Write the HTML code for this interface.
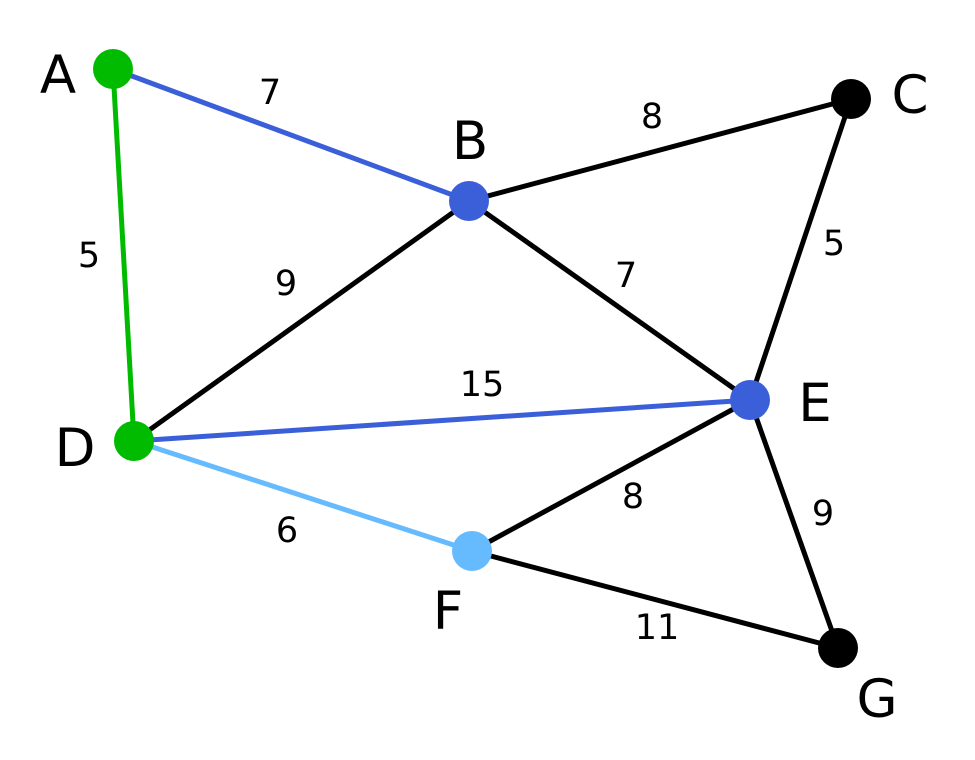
<!DOCTYPE html>
<html><head><meta charset="utf-8"><style>html,body{margin:0;padding:0;background:#fff}</style></head>
<body>
<svg width="975" height="760" viewBox="0 0 975 760" xmlns="http://www.w3.org/2000/svg" style="display:block">
<g stroke-width="5" stroke-linecap="round">
<line x1="113" y1="69" x2="469" y2="201" stroke="#3a5fd9"/>
<line x1="113" y1="69" x2="134" y2="441" stroke="#00bb00"/>
<line x1="469" y1="201" x2="851" y2="99" stroke="#000"/>
<line x1="469" y1="201" x2="134" y2="441" stroke="#000"/>
<line x1="469" y1="201" x2="750" y2="400" stroke="#000"/>
<line x1="851" y1="99" x2="750" y2="400" stroke="#000"/>
<line x1="134" y1="441" x2="750" y2="400" stroke="#3a5fd9"/>
<line x1="134" y1="441" x2="472" y2="551" stroke="#66bbff"/>
<line x1="472" y1="551" x2="750" y2="400" stroke="#000"/>
<line x1="472" y1="551" x2="838" y2="648" stroke="#000"/>
<line x1="750" y1="400" x2="838" y2="648" stroke="#000"/>
</g>
<circle cx="113" cy="69" r="20" fill="#00bb00"/>
<circle cx="469" cy="201" r="20" fill="#3a5fd9"/>
<circle cx="851" cy="99" r="20" fill="#000"/>
<circle cx="134" cy="441" r="20" fill="#00bb00"/>
<circle cx="750" cy="400" r="20" fill="#3a5fd9"/>
<circle cx="472" cy="551" r="20" fill="#66bbff"/>
<circle cx="838" cy="648" r="20" fill="#000"/>
<g font-family="DejaVu Sans, Liberation Sans, sans-serif" font-size="53" text-anchor="middle" fill="#000">
<text x="58" y="93">A</text>
<text x="470" y="159">B</text>
<text x="910" y="113">C</text>
<text x="75" y="466">D</text>
<text x="815" y="421">E</text>
<text x="448" y="629">F</text>
<text x="877" y="717">G</text>
</g>
<g font-family="DejaVu Sans, Liberation Sans, sans-serif" font-size="35" text-anchor="middle" fill="#000">
<text x="270" y="104">7</text>
<text x="652" y="128">8</text>
<text x="89" y="267">5</text>
<text x="286" y="295">9</text>
<text x="626" y="287">7</text>
<text x="834" y="255">5</text>
<text x="482" y="396">15</text>
<text x="287" y="542">6</text>
<text x="633" y="508">8</text>
<text x="823" y="525">9</text>
<text x="657" y="639">11</text>
</g>
</svg>
</body></html>
